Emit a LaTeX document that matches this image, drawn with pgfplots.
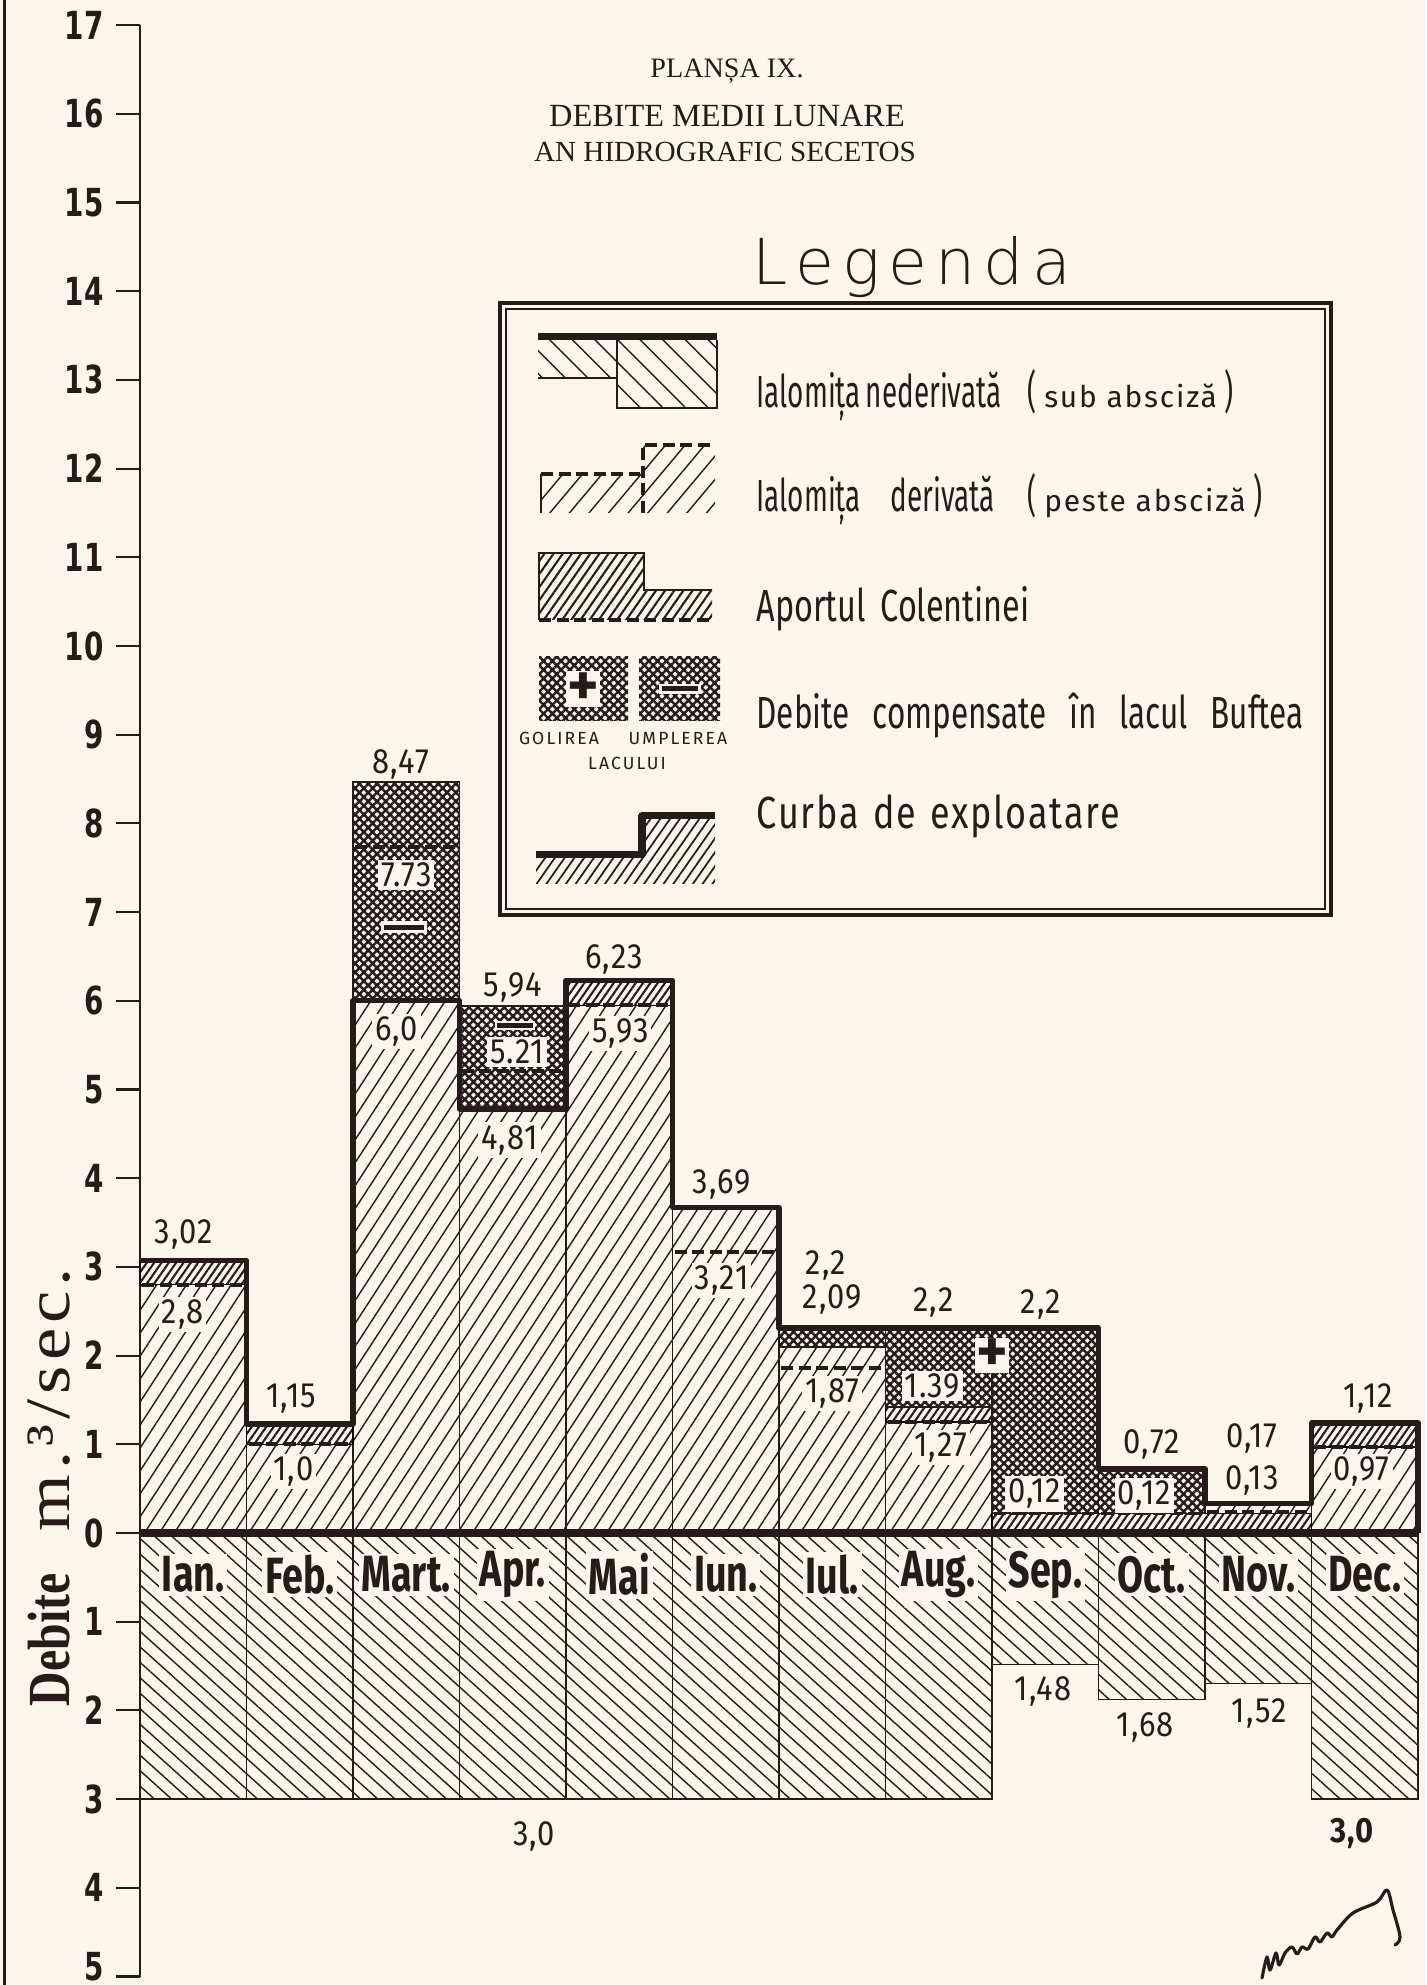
\documentclass[border=0pt]{standalone}
\usepackage{fontspec}
\usepackage{pgfplots}
\pgfplotsset{compat=1.18}
\usetikzlibrary{patterns.meta}
\setmainfont{Fira Sans}
\newfontfamily\tickfont[FakeStretch=0.72]{DejaVu Sans}
\newfontfamily\valfont[FakeStretch=0.88,LetterSpace=3]{Fira Sans}
\newfontfamily\monfont[FakeStretch=0.74]{Fira Sans}
\newfontfamily\legfont[FakeStretch=0.62]{Fira Sans}
\newfontfamily\legfontC[FakeStretch=0.72]{Fira Sans}
\newfontfamily\legfontD[FakeStretch=0.7]{Fira Sans}
\newfontfamily\legfontB[FakeStretch=0.8,LetterSpace=4]{Fira Sans}
\newfontfamily\legsmall[LetterSpace=6]{Fira Sans}
\newfontfamily\capsfont[LetterSpace=12]{Fira Sans}
\newfontfamily\legtitle[LetterSpace=13,UprightFont=* ExtraLight]{DejaVu Sans}
\newfontfamily\serif{Liberation Serif}
\newfontfamily\serifbold[FakeStretch=0.8]{Liberation Serif}
\newfontfamily\serifunit[FakeStretch=1.15,LetterSpace=8]{Liberation Serif}
\definecolor{paper}{RGB}{251,246,235}
\definecolor{ink}{RGB}{38,27,24}
\tikzset{
  lighthatch/.style={fill=paper, postaction={pattern color=ink, pattern={Lines[angle=57,distance=1.25mm,line width=0.4pt]}}},
  lowhatch/.style={fill=paper, postaction={pattern color=ink, pattern={Lines[angle=-42,distance=1.15mm,line width=0.4pt]}}},
  densehatch/.style={fill=paper, postaction={pattern color=ink, pattern={Lines[angle=55,distance=0.6mm,line width=0.6pt]}}},
  cross/.style={draw=ink, line width=0.5pt, fill=paper, postaction={pattern color=ink, pattern={Hatch[angle=45,distance=0.62mm,line width=0.7pt]}}},
  dline/.style={ink, line width=1.1pt, dash pattern=on 1.2mm off 0.55mm},
  val/.style={font=\valfont\fontsize{10}{11}\selectfont, text=ink, inner sep=0.5pt},
  bval/.style={val, fill=paper, inner sep=0.8pt},
  mon/.style={font=\monfont\bfseries\fontsize{14.5}{15}\selectfont, text=ink, fill=paper, inner sep=0.8pt},
  leg/.style={font=\legfont\fontsize{12.8}{13}\selectfont, text=ink, anchor=base west, inner sep=0pt},
}
\newcommand{\reg}[5]{\addplot[#5] coordinates {(#1,#3) (#2,#3) (#2,#4) (#1,#4) (#1,#3)};}
\begin{document}
\begin{tikzpicture}[x=1mm,y=1mm]
\fill[paper] (0,0) rectangle (142.6,198.5);
\draw[ink, line width=0.7pt] (0.45,0) -- (0.45,198.5);
\begin{axis}[
  at={(14.0mm,0.85mm)}, anchor=south west,
  x=10.65mm, y=8.87mm,
  xmin=0, xmax=12, ymin=-5, ymax=17,
  enlargelimits=false, clip=false,
  axis x line=none, axis y line*=left,
  y axis line style={-, ink, line width=0.8pt},
  xtick=\empty,
  ytick={-5,-4,...,17},
  yticklabels={\raisebox{-0.4mm}[0pt][0pt]{5},4,3,2,1,0,1,2,3,4,5,6,7,8,9,10,11,12,13,14,15,16,17},
  tick align=outside,
  major tick length=2.4mm,
  ytick style={ink, line width=0.6pt},
  yticklabel style={font=\tickfont\bfseries\fontsize{11}{11}\selectfont, text=ink},
]
% Ialomita nederivata (below the abscissa)
\addplot[ybar interval, draw=ink, line width=0.4pt, lowhatch] coordinates {(0,-3.0) (1,-3.0) (2,-3.0) (3,-3.0) (4,-3.0) (5,-3.0) (6,-3.0) (7,-3.0) (8,-1.48) (9,-1.88) (10,-1.70) (11,-3.0) (12,0)};
% total above the abscissa
\addplot[ybar interval, draw=ink, line width=0.4pt, lighthatch] coordinates {(0,3.07) (1,1.23) (2,8.47) (3,5.94) (4,6.23) (5,3.67) (6,2.31) (7,2.31) (8,2.31) (9,0.72) (10,0.33) (11,1.24) (12,0)};
% Aportul Colentinei
\reg{0}{1}{2.80}{3.07}{densehatch}
\reg{1}{2}{1.00}{1.23}{densehatch}
\reg{4}{5}{5.95}{6.23}{densehatch}
\reg{7}{8}{1.25}{1.42}{densehatch}
\reg{8}{11}{0.03}{0.22}{densehatch}
\reg{11}{12}{0.97}{1.24}{densehatch}
% debite compensate in lacul Buftea
\reg{2}{3}{6.00}{8.47}{cross}
\reg{3}{4}{4.78}{5.94}{cross}
\reg{6}{7}{2.10}{2.31}{cross}
\reg{7}{8}{1.42}{2.31}{cross}
\reg{8}{9}{0.22}{2.31}{cross}
\reg{9}{10}{0.22}{0.72}{cross}
% Ialomita derivata (dashed)
\addplot[dline] coordinates {(0.02,2.80) (0.98,2.80)};
\addplot[dline] coordinates {(1.02,1.00) (1.98,1.00)};
\addplot[dline] coordinates {(2.02,7.73) (2.98,7.73)};
\addplot[dline] coordinates {(3.02,5.21) (3.98,5.21)};
\addplot[dline] coordinates {(4.02,5.95) (4.98,5.95)};
\addplot[dline] coordinates {(5.02,3.17) (5.98,3.17)};
\addplot[dline] coordinates {(6.02,1.86) (6.98,1.86)};
\addplot[dline] coordinates {(7.02,1.25) (7.98,1.25)};
\addplot[dline] coordinates {(8.02,0.22) (8.98,0.22)};
\addplot[dline] coordinates {(9.02,0.22) (9.98,0.22)};
\addplot[dline] coordinates {(10.02,0.24) (10.98,0.24)};
\addplot[dline] coordinates {(11.02,0.97) (11.98,0.97)};
% curba de exploatare
\addplot[const plot, ink, line width=1.5pt, line join=round] coordinates {(0,3.07) (1,1.23) (2,6.0) (3,4.78) (4,6.23) (5,3.67) (6,2.31) (7,2.31) (8,2.31) (9,0.72) (10,0.33) (11,1.24) (12,0)};
% abscissa
\addplot[ink, line width=2.4pt] coordinates {(0,0) (12,0)};
% value labels
\node[val] at (axis cs:0.41,3.36) {3,02};
\node[bval] at (axis cs:0.40,2.46) {2,8};
\node[val] at (axis cs:1.42,1.51) {1,15};
\node[bval] at (axis cs:1.44,0.69) {1,0};
\node[val] at (axis cs:2.45,8.66) {8,47};
\node[bval] at (axis cs:2.50,7.42) {7.73};
\node[fill=paper, inner sep=0.9pt] at (axis cs:2.48,6.83) {\color{ink}\rule{4mm}{0.5mm}};
\node[bval] at (axis cs:2.41,5.65) {6,0};
\node[val] at (axis cs:3.50,6.15) {5,94};
\node[fill=paper, inner sep=0.6pt] at (axis cs:3.52,5.72) {\color{ink}\rule{3.6mm}{0.5mm}};
\node[bval] at (axis cs:3.54,5.42) {5.21};
\node[bval] at (axis cs:3.47,4.43) {4,81};
\node[val] at (axis cs:4.45,6.47) {6,23};
\node[bval] at (axis cs:4.51,5.63) {5,93};
\node[val] at (axis cs:5.46,3.93) {3,69};
\node[bval] at (axis cs:5.46,2.85) {3,21};
\node[val] at (axis cs:6.44,3.02) {2,2};
\node[val] at (axis cs:6.50,2.63) {2,09};
\node[bval] at (axis cs:6.50,1.57) {1,87};
\node[val] at (axis cs:7.45,2.60) {2,2};
\node[bval] at (axis cs:7.44,1.66) {1.39};
\node[bval] at (axis cs:7.52,0.96) {1,27};
\node[fill=paper, inner sep=0.4pt, font=\bfseries\fontsize{17}{17}\selectfont, text=ink] at (axis cs:8.0,2.0) {+};
\node[val] at (axis cs:8.46,2.58) {2,2};
\node[bval] at (axis cs:8.40,0.44) {0,12};
\node[val] at (axis cs:9.50,1.00) {0,72};
\node[bval] at (axis cs:9.43,0.42) {0,12};
\node[val] at (axis cs:10.44,1.07) {0,17};
\node[val] at (axis cs:10.44,0.59) {0,13};
\node[val] at (axis cs:11.53,1.52) {1,12};
\node[bval] at (axis cs:11.47,0.69) {0,97};
\node[val] at (axis cs:8.48,-1.79) {1,48};
\node[val] at (axis cs:9.44,-2.19) {1,68};
\node[val] at (axis cs:10.51,-2.03) {1,52};
\node[val] at (axis cs:3.70,-3.42) {3,0};
\node[val, font=\valfont\bfseries\fontsize{10}{11}\selectfont] at (axis cs:11.38,-3.39) {3,0};
% months
\node[mon] at (axis cs:0.5,-0.47) {Ian.};
\node[mon] at (axis cs:1.5,-0.47) {Feb.};
\node[mon] at (axis cs:2.5,-0.47) {Mart.};
\node[mon] at (axis cs:3.5,-0.47) {Apr.};
\node[mon] at (axis cs:4.5,-0.47) {Mai};
\node[mon] at (axis cs:5.5,-0.47) {Iun.};
\node[mon] at (axis cs:6.5,-0.47) {Iul.};
\node[mon] at (axis cs:7.5,-0.47) {Aug.};
\node[mon] at (axis cs:8.5,-0.47) {Sep.};
\node[mon] at (axis cs:9.5,-0.47) {Oct.};
\node[mon] at (axis cs:10.5,-0.47) {Nov.};
\node[mon] at (axis cs:11.5,-0.47) {Dec.};
\end{axis}
% axis title
\node[rotate=90, anchor=base west, inner sep=0pt, text=ink, font=\serifbold\bfseries\fontsize{17}{17}\selectfont] at (7.0,27.8) {Debite};
\node[rotate=90, anchor=base west, inner sep=0pt, text=ink, font=\serifunit\fontsize{18}{18}\selectfont] at (7.0,45.3) {m.³/sec.};
% titles
\node[anchor=base, text=ink, font=\serif\fontsize{8}{9}\selectfont] at (72.7,190.7) {PLANȘA IX.};
\node[anchor=base, text=ink, font=\serif\fontsize{9.2}{10}\selectfont] at (72.7,185.8) {DEBITE MEDII LUNARE};
\node[anchor=base, text=ink, font=\serif\fontsize{8.3}{10}\selectfont] at (72.5,182.3) {AN HIDROGRAFIC SECETOS};
% legend
\node[anchor=base, text=ink, font=\legtitle\fontsize{18}{19}\selectfont] at (91.2,170.0) {Legenda};
\draw[ink, line width=0.9pt] (50.0,107.0) rectangle (133.1,168.2);
\draw[ink, line width=0.4pt] (50.6,107.6) rectangle (132.5,167.6);
% row 1
\fill[pattern color=ink, pattern={Lines[angle=-45,distance=1.6mm,line width=0.4pt]}] (53.8,160.7) rectangle (61.7,164.5);
\fill[pattern color=ink, pattern={Lines[angle=-45,distance=1.6mm,line width=0.4pt]}] (61.7,157.7) rectangle (71.7,164.5);
\draw[ink, line width=0.4pt] (53.8,160.7) -- (61.7,160.7);
\draw[ink, line width=0.4pt] (61.7,164.5) -- (61.7,157.7) -- (71.7,157.7) -- (71.7,164.5);
\draw[ink, line width=2pt] (53.8,164.85) -- (71.7,164.85);
\node[leg] at (75.6,157.7) {\makebox[23.5mm][s]{Ialomița nederivată}};
\node[leg] at (102.7,157.7) {(\,{\legsmall\fontsize{8.5}{9}\selectfont sub absciză}\,)};
% row 2
\fill[pattern color=ink, pattern={Lines[angle=50,distance=1.5mm,line width=0.4pt]}] (54.1,147.2) rectangle (64.3,151.1);
\fill[pattern color=ink, pattern={Lines[angle=50,distance=1.5mm,line width=0.4pt]}] (64.3,147.2) rectangle (71.5,154.0);
\draw[ink, line width=0.4pt] (54.1,147.2) -- (54.1,151.1);
\draw[dline] (54.1,151.1) -- (64.0,151.1);
\draw[dline] (64.3,147.2) -- (64.3,154.0) -- (71.5,154.0);
\node[leg] at (75.6,147.3) {\makebox[23.8mm][s]{Ialomița derivată}};
\node[leg] at (102.7,147.3) {(\,{\legsmall\fontsize{8.5}{9}\selectfont peste absciză}\,)};
% row 3
\fill[pattern color=ink, pattern={Lines[angle=55,distance=0.75mm,line width=0.6pt]}] (53.9,136.5) rectangle (64.4,143.2);
\fill[pattern color=ink, pattern={Lines[angle=55,distance=0.75mm,line width=0.6pt]}] (64.4,136.5) rectangle (71.2,139.5);
\draw[ink, line width=0.5pt] (53.9,136.5) -- (53.9,143.2) -- (64.4,143.2) -- (64.4,139.5) -- (71.2,139.5);
\draw[dline] (53.9,136.5) -- (71.2,136.5);
\node[leg, font=\legfontC\fontsize{12.8}{13}\selectfont] at (75.6,136.3) {Aportul\hspace{0.6mm} Colentinei};
% row 4
\fill[pattern color=ink, pattern={Hatch[angle=45,distance=0.62mm,line width=0.7pt]}] (53.9,126.4) rectangle (62.8,132.8);
\fill[pattern color=ink, pattern={Hatch[angle=45,distance=0.62mm,line width=0.7pt]}] (63.9,126.4) rectangle (72.0,132.8);
\node[fill=paper, inner sep=0.4pt, text=ink, font=\bfseries\fontsize{17}{17}\selectfont] at (58.3,129.6) {+};
\node[fill=paper, inner sep=0.8pt] at (68.0,129.6) {\color{ink}\rule{3.6mm}{0.5mm}};
\node[text=ink, font=\capsfont\fontsize{5}{6}\selectfont, anchor=base] at (55.9,124.0) {GOLIREA};
\node[text=ink, font=\capsfont\fontsize{5}{6}\selectfont, anchor=base] at (67.8,124.0) {UMPLEREA};
\node[text=ink, font=\capsfont\fontsize{5}{6}\selectfont, anchor=base] at (62.7,121.5) {LACULUI};
\node[leg, font=\legfontD\fontsize{12.8}{13}\selectfont] at (75.6,125.6) {\makebox[54.7mm][s]{Debite compensate în lacul Buftea}};
% row 5
\fill[pattern color=ink, pattern={Lines[angle=55,distance=0.8mm,line width=0.5pt]}] (53.6,110.1) rectangle (64.2,113.0);
\fill[pattern color=ink, pattern={Lines[angle=55,distance=0.8mm,line width=0.5pt]}] (64.2,110.1) rectangle (71.5,116.9);
\draw[ink, line width=2pt, line join=round] (53.6,113.0) -- (64.2,113.0) -- (64.2,116.9) -- (71.5,116.9);
\node[leg, font=\legfontB\fontsize{12.8}{13}\selectfont] at (75.6,115.6) {\makebox[36.3mm][s]{Curba de exploatare}};
% signature
\draw[ink, line width=0.9pt, line cap=round, line join=round] plot[smooth, tension=0.55] coordinates {(126.2,0.7) (126.7,2.8) (127.0,1.5) (127.6,3.2) (127.9,2.0) (128.5,3.2) (129.2,3.8) (129.7,3.1) (130.2,3.8) (130.8,3.6) (131.5,4.8) (132.0,4.3) (132.7,5.2) (133.2,4.8) (133.7,5.5) (135.3,7.2) (137.7,8.3) (138.7,9.5) (139.3,7.5) (140.0,4.8) (139.5,4.0)};
\pgfresetboundingbox
\useasboundingbox (0,0) rectangle (142.6,198.5);
\end{tikzpicture}
\end{document}
